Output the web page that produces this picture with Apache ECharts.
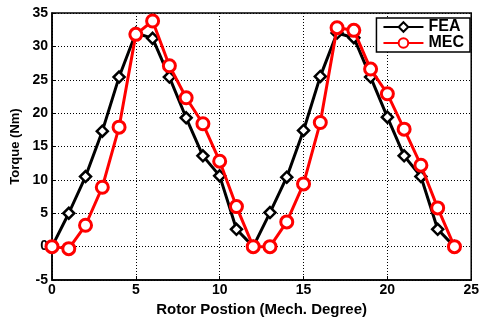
<!DOCTYPE html>
<html><head><meta charset="utf-8">
<script src="https://cdn.jsdelivr.net/npm/echarts@6/dist/echarts.min.js"></script>
<style>html,body{margin:0;padding:0;background:#fff}#c{width:482px;height:322px}</style>
</head><body><div id="c"></div>
<script>
const positions = [0,1,2,3,4,5,6,7,8,9,10,11,12,13,14,15,16,17,18,19,20,21,22,23,24];
const fea = [0,5.0,10.5,17.3,25.4,32.0,31.2,25.4,19.3,13.6,10.6,2.6,0,5.1,10.4,17.4,25.5,32.0,31.3,25.4,19.4,13.6,10.5,2.6,0];
const mec = [0,-0.3,3.2,8.9,17.9,31.8,33.8,27.1,22.3,18.4,12.8,6.0,0,0,3.7,9.4,18.6,32.8,32.4,26.6,22.9,17.6,12.2,5.8,0];
const xTicks = [0,5,10,15,20,25];
const yTicks = [-5,0,5,10,15,20,25,30,35];

const chart = echarts.init(document.getElementById('c'));
const font = 'Liberation Sans, Arial, sans-serif';
const pair = a => positions.map((x,i)=>[x,a[i]]);
chart.setOption({
  animation:false,
  grid:{left:52,right:7,top:13,bottom:38,show:true,borderColor:'#000',borderWidth:1.5},
  legend:{
    right:12, top:18, orient:'vertical', backgroundColor:'#fff',
    borderColor:'#000', borderWidth:1.5, padding:[1,6,1,6], itemGap:0,
    itemWidth:40, itemHeight:12,
    textStyle:{fontFamily:font,fontWeight:'bold',fontSize:16,color:'#000',lineHeight:14},
    data:['FEA','MEC']
  },
  xAxis:{
    type:'value', min:0, max:25, interval:5,
    name:'Rotor Postion (Mech. Degree)', nameLocation:'middle', nameGap:22,
    nameTextStyle:{fontFamily:font,fontWeight:'bold',fontSize:15,color:'#000'},
    axisLine:{onZero:false,lineStyle:{color:'#000',width:1.5}},
    axisTick:{inside:true,length:4,lineStyle:{color:'#000'}},
    axisLabel:{fontFamily:font,fontWeight:'bold',fontSize:14,color:'#000',margin:3},
    splitLine:{show:true,lineStyle:{color:'#000',type:[1,2],width:1}}
  },
  yAxis:{
    type:'value', min:-5, max:35, interval:5,
    name:'Torque (Nm)', nameLocation:'middle', nameGap:30,
    nameTextStyle:{fontFamily:font,fontWeight:'bold',fontSize:13,color:'#000'},
    axisLine:{onZero:false,lineStyle:{color:'#000',width:1.5}},
    axisTick:{inside:true,length:4,lineStyle:{color:'#000'}},
    axisLabel:{fontFamily:font,fontWeight:'bold',fontSize:14,color:'#000',margin:4},
    splitLine:{show:true,lineStyle:{color:'#000',type:[1,2],width:1}}
  },
  series:[
    {name:'FEA',type:'line',data:pair(fea),symbol:'diamond',symbolSize:11,
     lineStyle:{color:'#000',width:3},itemStyle:{color:'#fff',borderColor:'#000',borderWidth:2.5},z:2},
    {name:'MEC',type:'line',data:pair(mec),symbol:'circle',symbolSize:12,
     lineStyle:{color:'#ff0000',width:3},itemStyle:{color:'#fff',borderColor:'#ff0000',borderWidth:3},z:3}
  ]
});
</script></body></html>
